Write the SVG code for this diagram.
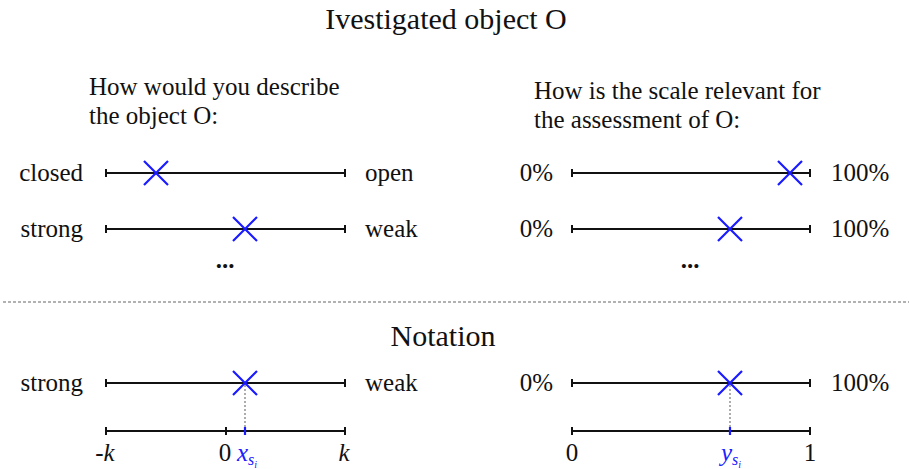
<svg xmlns="http://www.w3.org/2000/svg" width="909" height="469" viewBox="0 0 909 469" font-family="'Liberation Serif', 'Times New Roman', Times, 'DejaVu Serif', serif">
<defs>
<style>
text{font-family:'Liberation Serif','Times New Roman',Times,'DejaVu Serif',serif;fill:#111}
.t{font-size:30px;text-anchor:middle}
.q{font-size:25px}
.l{font-size:25px;text-anchor:end}
.r{font-size:25px;text-anchor:start}
.c{font-size:25px;text-anchor:middle}
.b{fill:#2020ff}
.scale{stroke:#111;stroke-width:2;fill:none}
.cross{stroke:#1a1aff;stroke-width:2.2;fill:none}
.dot{stroke:#777;stroke-width:1.2;stroke-dasharray:2,2;fill:none}
.sep{stroke:#999;stroke-width:1.5;stroke-dasharray:3,2;fill:none}
</style>
</defs>
<rect width="909" height="469" fill="#fff"/>
<g id="title"><text class="t" x="446" y="29">Ivestigated object O</text></g>
<g id="q-left"><text class="q" x="89" y="95">How would you describe</text><text class="q" x="89" y="124">the object O:</text></g>
<g id="q-right"><text class="q" x="534" y="99">How is the scale relevant for</text><text class="q" x="534" y="128">the assessment of O:</text></g>

<g id="scale-closed-open">
<path class="scale" d="M106 173H345M106 169V177M345 169V177"/>
<path class="cross" d="M144 161L168 185M168 161L144 185"/>
<text class="l" x="83" y="181">closed</text><text class="r" x="365" y="181">open</text>
</g>
<g id="scale-strong-weak">
<path class="scale" d="M106 229H345M106 225V233M345 225V233"/>
<path class="cross" d="M233 217L257 241M257 217L233 241"/>
<text class="l" x="83" y="237">strong</text><text class="r" x="365" y="237">weak</text>
</g>
<g id="dots-left"><text class="c" x="225" y="268" font-weight="bold">...</text></g>

<g id="rel-1">
<path class="scale" d="M572 173H810M572 169V177M810 169V177"/>
<path class="cross" d="M778 161L802 185M802 161L778 185"/>
<text class="l" x="553" y="181">0%</text><text class="r" x="831" y="181">100%</text>
</g>
<g id="rel-2">
<path class="scale" d="M572 229H810M572 225V233M810 225V233"/>
<path class="cross" d="M718 217L742 241M742 217L718 241"/>
<text class="l" x="553" y="237">0%</text><text class="r" x="831" y="237">100%</text>
</g>
<g id="dots-right"><text class="c" x="690" y="268" font-weight="bold">...</text></g>

<g id="separator"><path class="sep" d="M3 302H909"/></g>
<g id="notation-title"><text class="t" x="443" y="346">Notation</text></g>

<g id="notation-left">
<path class="scale" d="M106 383H345M106 379V387M345 379V387"/>
<path class="cross" d="M233 371L257 395M257 371L233 395"/>
<text class="l" x="83" y="391">strong</text><text class="r" x="365" y="391">weak</text>
</g>
<g id="axis-left">
<path class="scale" d="M106 431H345M106 427V435M345 427V435M226 427V435"/>
<path class="cross" d="M245 427V435"/>
<text class="c" x="105" y="461">-<tspan font-style="italic">k</tspan></text>
<text class="c" x="225" y="461">0</text>
<text class="c" x="344" y="461" font-style="italic">k</text>
<text x="237" y="461" font-size="25" font-style="italic" class="b">x<tspan font-size="16" dy="4">s</tspan><tspan font-size="10" dy="3">i</tspan></text>
</g>

<g id="notation-right">
<path class="scale" d="M572 383H810M572 379V387M810 379V387"/>
<path class="cross" d="M718 371L742 395M742 371L718 395"/>
<text class="l" x="553" y="391">0%</text><text class="r" x="831" y="391">100%</text>
</g>
<g id="axis-right">
<path class="scale" d="M572 431H810M572 427V435M810 427V435"/>
<path class="cross" d="M730 427V435"/>
<text class="c" x="572" y="461">0</text>
<text class="c" x="810" y="461">1</text>
<text x="721" y="461" font-size="25" font-style="italic" class="b">y<tspan font-size="16" dy="4">s</tspan><tspan font-size="10" dy="3">i</tspan></text>
</g>

<g id="connectors">
<path class="dot" d="M245 385V429"/>
<path class="dot" d="M730 385V429"/>
</g>
</svg>
